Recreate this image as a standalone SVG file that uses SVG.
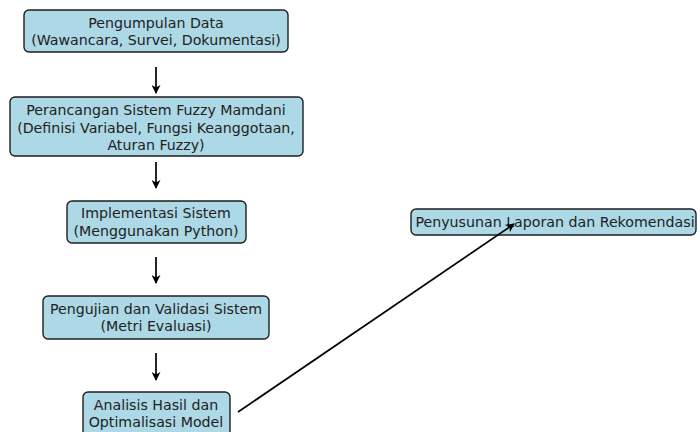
<svg xmlns="http://www.w3.org/2000/svg" width="700" height="432" viewBox="0 0 700 432">
<style>
.box{fill:#add8e6;stroke:#1e1e1e;stroke-width:1.4}
.t{font-family:"DejaVu Sans",sans-serif;font-size:14.2px;fill:#222;text-anchor:middle}
.c{stroke:#000;stroke-width:1.7;fill:none}
</style>
<defs>
<marker id="ah" viewBox="0 0 10 10" refX="9" refY="5" markerWidth="9" markerHeight="9" markerUnits="userSpaceOnUse" orient="auto">
<path d="M0,0 L10,5 L0,10 L3,5 Z" fill="#000"/>
</marker>
</defs>
<rect width="700" height="432" fill="#fff"/>
<g id="n1">
<rect class="box" x="24" y="10" width="264" height="42" rx="5"/>
<text class="t" x="156" y="28">Pengumpulan Data</text>
<text class="t" x="156" y="45">(Wawancara, Survei, Dokumentasi)</text>
</g>
<g id="n2">
<rect class="box" x="10" y="97" width="293" height="59" rx="5"/>
<text class="t" x="156" y="115">Perancangan Sistem Fuzzy Mamdani</text>
<text class="t" x="156" y="133">(Definisi Variabel, Fungsi Keanggotaan,</text>
<text class="t" x="156" y="150">Aturan Fuzzy)</text>
</g>
<g id="n3">
<rect class="box" x="67" y="201" width="179" height="42" rx="5"/>
<text class="t" x="156" y="218">Implementasi Sistem</text>
<text class="t" x="156" y="236">(Menggunakan Python)</text>
</g>
<g id="n4">
<rect class="box" x="43" y="296" width="226" height="43" rx="5"/>
<text class="t" x="156" y="314">Pengujian dan Validasi Sistem</text>
<text class="t" x="156" y="331">(Metri Evaluasi)</text>
</g>
<g id="n5">
<rect class="box" x="83" y="392" width="147" height="44" rx="5"/>
<text class="t" x="156" y="410">Analisis Hasil dan</text>
<text class="t" x="156" y="427">Optimalisasi Model</text>
</g>
<g id="n6">
<rect class="box" x="411" y="209" width="285" height="26" rx="5"/>
<text class="t" x="555" y="227">Penyusunan Laporan dan Rekomendasi</text>
</g>
<g id="connectors">
<line class="c" x1="156" y1="67" x2="156" y2="93" marker-end="url(#ah)"/>
<line class="c" x1="156" y1="162" x2="156" y2="188" marker-end="url(#ah)"/>
<line class="c" x1="156" y1="257" x2="156" y2="283" marker-end="url(#ah)"/>
<line class="c" x1="156" y1="353" x2="156" y2="380" marker-end="url(#ah)"/>
<line class="c" x1="238" y1="412" x2="514" y2="224" marker-end="url(#ah)"/>
</g>
</svg>
